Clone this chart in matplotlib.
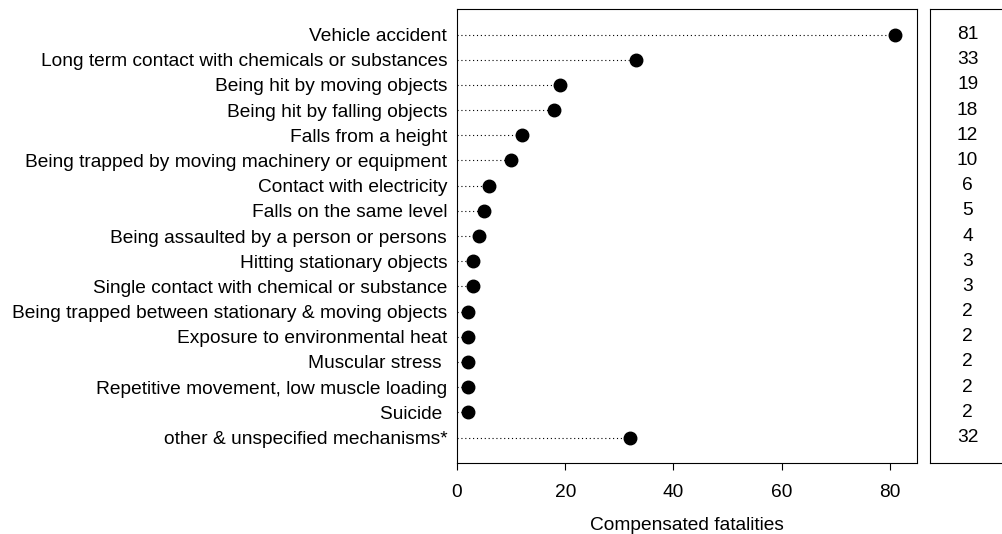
import numpy as np
import matplotlib
matplotlib.use("Agg")
import matplotlib.pyplot as plt

plt.rcParams['font.family'] = ['Liberation Sans', 'DejaVu Sans']

mechanisms = ["Vehicle accident",
              "Long term contact with chemicals or substances",
              "Being hit by moving objects",
              "Being hit by falling objects",
              "Falls from a height",
              "Being trapped by moving machinery or equipment",
              "Contact with electricity",
              "Falls on the same level",
              "Being assaulted by a person or persons",
              "Hitting stationary objects",
              "Single contact with chemical or substance",
              "Being trapped between stationary & moving objects",
              "Exposure to environmental heat",
              "Muscular stress ",
              "Repetitive movement, low muscle loading",
              "Suicide ",
              "other & unspecified mechanisms*"]
fatalities = [81, 33, 19, 18, 12, 10, 6, 5, 4, 3, 3, 2, 2, 2, 2, 2, 32]

fs = 13.8
fig = plt.figure(figsize=(10.03, 5.34), dpi=100)
ax = fig.add_axes([0.4556, 0.1335, 0.4587, 0.849])
ypos = np.arange(len(mechanisms))

ax.hlines(ypos, 0, fatalities, colors="black", linestyles=(0, (1, 2.5)), linewidth=0.8)
ax.plot(fatalities, ypos, "o", color="black", markersize=9, clip_on=False, zorder=3)

ax.set_xlim(0, 85)
ax.set_ylim(len(mechanisms), -1)
ax.set_yticks(ypos)
ax.set_yticklabels(mechanisms, fontsize=fs)
ax.tick_params(axis="y", length=0, pad=7)
ax.set_xticks([0, 20, 40, 60, 80])
ax.tick_params(axis="x", direction="out", length=5, labelsize=fs, pad=10)
ax.set_xlabel("Compensated fatalities", fontsize=fs, labelpad=12)

# side panel with the values
ax2 = fig.add_axes([0.9277, 0.1335, 0.1, 0.849])
ax2.set_ylim(len(mechanisms), -1)
ax2.set_xlim(0, 1)
ax2.set_xticks([])
ax2.set_yticks([])
ax2.spines["right"].set_visible(False)
for y, v in zip(ypos, fatalities):
    ax2.text(0.37, y, str(v), ha="center", va="center", fontsize=fs)

fig.savefig("out.png", dpi=100)
